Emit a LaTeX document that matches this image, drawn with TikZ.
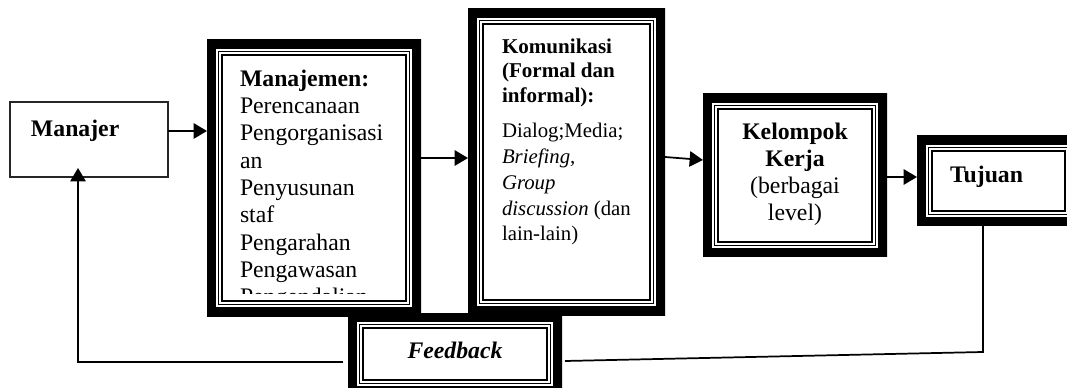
\documentclass[tikz,border=0pt]{standalone}
\usepackage{fontspec}
\setmainfont{Liberation Serif}
\usetikzlibrary{arrows.meta,calc}

\tikzset{
  % thick outer band plus two thin inner rules, drawn inside the node outline
  framed/.style={
    rectangle, fill=white, draw=none, inner sep=0pt, outer sep=0pt,
    path picture={
      \draw[line width=13.5pt]
        (path picture bounding box.south west) rectangle (path picture bounding box.north east);
      \draw[line width=1.1pt]
        ([shift={(8.6pt,8.6pt)}]path picture bounding box.south west) rectangle
        ([shift={(-8.6pt,-8.6pt)}]path picture bounding box.north east);
      \draw[line width=1pt]
        ([shift={(11.25pt,11.25pt)}]path picture bounding box.south west) rectangle
        ([shift={(-11.25pt,-11.25pt)}]path picture bounding box.north east);
    }
  },
  plainbox/.style={rectangle, draw=black!85, line width=0.8pt, fill=white,
    inner sep=0pt, outer sep=0pt},
  label/.style={inner sep=0pt, outer sep=0pt},
  body/.style={label, font=\fontsize{17.8pt}{20.5pt}\selectfont},
  arr/.style={line width=1.3pt, -{Triangle[length=10pt,width=11.5pt]}},
  link/.style={line width=1.3pt}
}

\begin{document}
\begin{tikzpicture}[x=0.75pt,y=-0.75pt]
  \useasboundingbox (0,0) rectangle (1067,388);

  % feedback box sits under the two tall boxes
  \node[framed, minimum width=160.5pt, minimum height=61.5pt] (feedback) at (455,354) {};
  \node[plainbox, minimum width=118.5pt, minimum height=56.25pt] (manajer) at (89,139.5) {};
  \node[framed, minimum width=160.5pt, minimum height=207pt] (manajemen) at (314,178) {};
  \node[framed, minimum width=147.75pt, minimum height=229.5pt] (komunikasi) at (566.5,162) {};
  \node[framed, minimum width=138pt, minimum height=122.25pt] (kelompok) at (795,175.5) {};
  \node[framed, minimum width=122.25pt, minimum height=67.5pt] (tujuan) at (998.5,181) {};

  % texts (multi-line nodes are placed by the baseline of their last line)
  \node[body, anchor=base west, font=\fontsize{17.8pt}{20.5pt}\selectfont\bfseries] (tmanajer) at (31,137) {Manajer};

  \begin{scope}
    % the last item runs past the bottom of the text area
    \clip (200,30) rectangle (430,293.5);
    \node[body, anchor=base west, align=left] (tmanajemen) at (240,304.7)
      {\textbf{Manajemen:}\\Perencanaan\\Pengorganisasi\\an\\Penyusunan\\staf\\Pengarahan\\Pengawasan\\Pengendalian};
  \end{scope}

  \node[label, anchor=base west, align=left, font=\fontsize{15.8pt}{18.4pt}\selectfont] (tkom) at (502,102.1)
    {\textbf{Komunikasi}\\\textbf{(Formal dan}\\\textbf{informal):}};
  \node[label, anchor=base west, align=left, font=\fontsize{15.6pt}{19.3pt}\selectfont] (tkom2) at (502,240.9)
    {Dialog;Media;\\\textit{Briefing,}\\\textit{Group}\\\textit{discussion} (dan\\lain-lain)};

  \node[label, anchor=base, align=center, font=\fontsize{17.8pt}{20.25pt}\selectfont] (tkel) at (795,221)
    {\textbf{Kelompok}\\\textbf{Kerja}\\(berbagai\\level)};

  \node[body, anchor=base west, font=\fontsize{17.8pt}{20.5pt}\selectfont\bfseries] (ttujuan) at (950,183) {Tujuan};
  \node[body, anchor=base, font=\fontsize{17.8pt}{20.5pt}\selectfont\bfseries\itshape] (tfeed) at (455,358) {Feedback};

  % arrow heights
  \coordinate (r1) at (0,131);
  \coordinate (r2) at (0,158);
  \coordinate (r3) at (0,157);
  \coordinate (r4) at (0,160);
  \coordinate (r5) at (0,177);
  \draw[arr] (manajer.east |- r1) -- (manajemen.west |- r1);
  \draw[arr] (manajemen.east |- r2) -- (komunikasi.west |- r2);
  \draw[arr] (komunikasi.east |- r3) -- (kelompok.west |- r4);
  \draw[arr] (kelompok.east |- r5) -- (tujuan.west |- r5);

  % feedback loop
  \coordinate (fr) at (983,352);
  \coordinate (fbe) at (565,361);
  \coordinate (fbw) at (343,362);
  \coordinate (fl) at (78,362);
  \draw[link] (tujuan.south -| fr) -- (fr) -- (fbe);
  \draw[arr, shorten >=-6.75pt] (fbw) -- (fl) -- (manajer.south -| fl);
\end{tikzpicture}
\end{document}
